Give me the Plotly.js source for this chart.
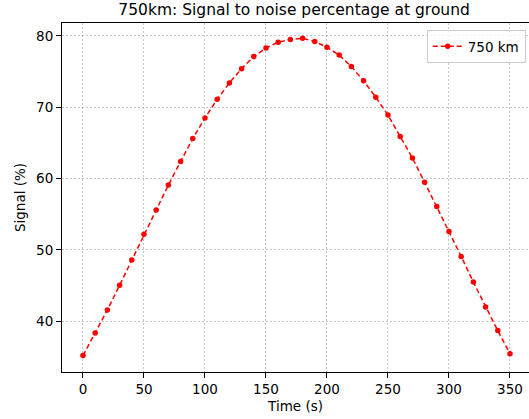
<!DOCTYPE html>
<html>
<head>
<meta charset="utf-8">
<script src="https://cdn.plot.ly/plotly-3.0.1.min.js"></script>
<style>html,body{margin:0;padding:0;background:#fff;}#chart{width:529px;height:419px;}</style>
</head>
<body>
<div id="chart"></div>
<script>
const timeS = [0,10,20,30,40,50,60,70,80,90,100,110,120,130,140,150,160,170,180,190,200,210,220,230,240,250,260,270,280,290,300,310,320,330,340,350];
const signal750 = [35.2,38.35,41.6,45.05,48.6,52.2,55.6,59.1,62.4,65.6,68.5,71.1,73.4,75.4,77.1,78.3,79.1,79.5,79.65,79.2,78.4,77.3,75.7,73.7,71.4,68.9,65.9,62.9,59.5,56.1,52.6,49.1,45.5,42.0,38.7,35.45];
const seriesName = '750 km';
const xTicks = [0,50,100,150,200,250,300,350];
const yTicks = [40,50,60,70,80];

const font = 'DejaVu Sans, sans-serif';
const trace = {
  x: timeS, y: signal750, name: seriesName, type: 'scatter', mode: 'lines+markers',
  line: {color: '#ff0000', dash: '5px,3px', width: 1.5},
  marker: {color: '#ff0000', size: 5.5, symbol: 'circle'}
};
const layout = {
  width: 529, height: 419,
  margin: {l: 62, r: 0, t: 23, b: 47},
  paper_bgcolor: '#ffffff', plot_bgcolor: '#ffffff',
  font: {family: font, size: 13.5, color: '#000'},
  showlegend: true,
  title: {text: '750km: Signal to noise percentage at ground', font: {family: font, size: 15.5, color: '#000'},
          xref: 'container', x: 0.556, xanchor: 'center', yref: 'container', y: 1 - 10/419, yanchor: 'middle'},
  xaxis: {range: [-17.2, 365.6], tickvals: xTicks, ticktext: xTicks.map(String),
          ticks: 'outside', ticklen: 5, tickwidth: 1, tickcolor: '#000',
          showline: true, linecolor: '#000', linewidth: 1, mirror: true,
          showgrid: true, gridcolor: '#a0a0a0', gridwidth: 0.6, griddash: '2px,2px', zeroline: false,
          tickfont: {family: font, size: 13.5},
          title: {text: 'Time (s)', font: {family: font, size: 13.5}, standoff: 5}},
  yaxis: {range: [32.9, 81.8], tickvals: yTicks, ticktext: yTicks.map(String),
          ticks: 'outside', ticklen: 5, tickwidth: 1, tickcolor: '#000',
          showline: true, linecolor: '#000', linewidth: 1, mirror: false,
          showgrid: true, gridcolor: '#a0a0a0', gridwidth: 0.6, griddash: '2px,2px', zeroline: false,
          tickfont: {family: font, size: 13.5},
          title: {text: 'Signal (%)', font: {family: font, size: 13.5}, standoff: 7}},
  legend: {x: 0.993, xanchor: 'right', y: 0.98, yanchor: 'top', itemwidth: 30,
           bgcolor: 'rgba(255,255,255,0.8)', bordercolor: '#cccccc', borderwidth: 1,
           font: {family: font, size: 13.5}}
};
Plotly.newPlot('chart', [trace], layout, {displayModeBar: false, staticPlot: true});
</script>
</body>
</html>
